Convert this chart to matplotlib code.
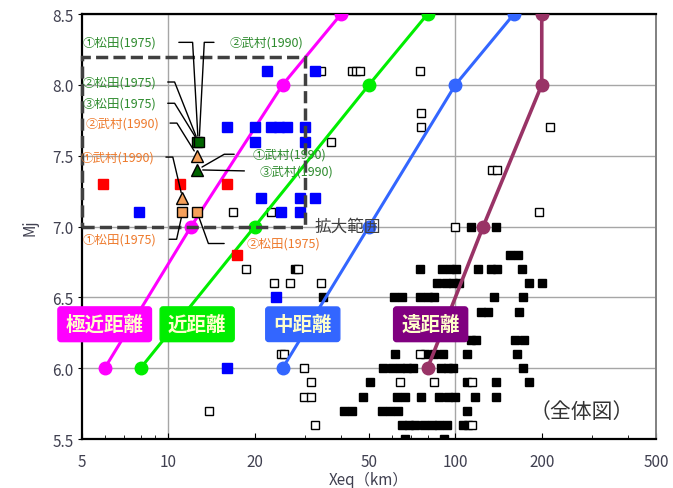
import matplotlib
matplotlib.use("Agg")
import matplotlib.pyplot as plt
from matplotlib.patches import Rectangle

plt.rcParams['font.family'] = ['Noto Sans CJK JP', 'DejaVu Sans']

# ── 距離区分ライン ───────────────────────────────
MAG_X = [6, 12, 25, 40]
GRN_X = [8, 20, 50, 80]
BLU_X = [25, 50, 100, 160]
MAR_X = [80, 125, 200, 200]
LINE_Y = [6.0, 7.0, 8.0, 8.5]

# ── 黒(塗り)の観測点 ───────────────────────────────
BLACK_X = [113, 139,
           155, 165,
           27.7, 75, 90, 95.6, 100.5, 120, 132.6, 140, 170,
           86, 93, 98, 103, 180, 201,
           34.7, 61, 65, 75, 80, 84, 136.6, 172,
           123, 130, 166.5,
           113, 118, 161, 173,
           61.4, 78.5, 84, 90.8, 109.5, 164,
           56, 60, 64, 68, 71, 89, 94, 98, 172,
           50.5, 109.5, 138, 180,
           47.6, 62.7, 66.9, 75.7, 88, 94, 99.5, 116.7, 139,
           41, 43.5, 55.5, 59.4, 63.3, 109.5,
           65, 68.7, 72.3, 77.7, 83, 87.5, 93.3, 106, 111,
           66.7, 91.6]
BLACK_Y = [7.0, 7.0,
           6.8, 6.8,
           6.7, 6.7, 6.7, 6.7, 6.7, 6.7, 6.7, 6.7, 6.7,
           6.6, 6.6, 6.6, 6.6, 6.6, 6.6,
           6.5, 6.5, 6.5, 6.5, 6.5, 6.5, 6.5, 6.5,
           6.4, 6.4, 6.4,
           6.2, 6.2, 6.2, 6.2,
           6.1, 6.1, 6.1, 6.1, 6.1, 6.1,
           6.0, 6.0, 6.0, 6.0, 6.0, 6.0, 6.0, 6.0, 6.0,
           5.9, 5.9, 5.9, 5.9,
           5.8, 5.8, 5.8, 5.8, 5.8, 5.8, 5.8, 5.8, 5.8,
           5.7, 5.7, 5.7, 5.7, 5.7, 5.7,
           5.6, 5.6, 5.6, 5.6, 5.6, 5.6, 5.6, 5.6, 5.6,
           5.5, 5.5]

# ── 白抜きの観測点 ───────────────────────────────
OPEN_X = [34, 43.5, 45, 46.5, 75,
          75.6, 75.6, 214, 37, 134, 140,
          16.8, 22.7, 195, 100,
          18.6, 28.4, 23.3, 26.6, 34.1,
          24.7, 25.2, 75, 29.7,
          31.5, 64.2, 84, 114.5,
          29.7, 31.5, 13.9, 32.3, 114]
OPEN_Y = [8.1, 8.1, 8.1, 8.1, 8.1,
          7.8, 7.7, 7.7, 7.6, 7.4, 7.4,
          7.1, 7.1, 7.1, 7.0,
          6.7, 6.7, 6.6, 6.6, 6.6,
          6.1, 6.1, 6.1, 6.0,
          5.9, 5.9, 5.9, 5.9,
          5.8, 5.8, 5.7, 5.6, 5.6]

BLUE_X = [22, 32.5, 16, 20, 22.7, 24.3, 26, 30, 20, 30,
          21, 28.7, 32.5, 7.9, 24.6, 28.7, 23.8, 16]
BLUE_Y = [8.1, 8.1, 7.7, 7.7, 7.7, 7.7, 7.7, 7.7, 7.6, 7.6,
          7.2, 7.2, 7.2, 7.1, 7.1, 7.1, 6.5, 6.0]

RED_X = [5.9, 11, 16, 17.3]
RED_Y = [7.3, 7.3, 7.3, 6.8]

# 松田(1975)・武村(1990)による推定点
ORG_SQ_X = [11.2, 12.6]
ORG_SQ_Y = [7.1, 7.1]
ORG_TRI_X = [11.2, 12.6]
ORG_TRI_Y = [7.2, 7.5]
GRN_SQ_X = [12.6, 12.8]
GRN_SQ_Y = [7.6, 7.6]
GRN_TRI_X = [12.6]
GRN_TRI_Y = [7.4]

# 注記: テキスト, 色, ラベル位置, 指す点, 左右, 隙間, 水平部の長さ
GREEN_TXT = '#2E8B2E'
ORANGE_TXT = '#EE7A2C'
NOTES = [
    ('①松田(1975)', GREEN_TXT, (9.1, 8.30), (12.7, 7.6), 'L', 14, 22),
    ('②松田(1975)', GREEN_TXT, (9.1, 8.02), (12.7, 7.6), 'L', 6, 12),
    ('③松田(1975)', GREEN_TXT, (9.1, 7.87), (12.7, 7.6), 'L', 6, 12),
    ('②武村(1990)', ORANGE_TXT, (9.27, 7.73), (12.6, 7.5), 'L', 6, 12),
    ('①武村(1990)', ORANGE_TXT, (8.97, 7.49), (11.2, 7.2), 'L', 6, 12),
    ('①松田(1975)', ORANGE_TXT, (9.1, 6.91), (11.2, 7.1), 'L', 7, 13),
    ('②武村(1990)', GREEN_TXT, (16.3, 8.30), (12.8, 7.6), 'R', 9, 16),
    ('①武村(1990)', GREEN_TXT, (19.6, 7.51), (12.6, 7.4), 'R', 11, 17),
    ('③武村(1990)', GREEN_TXT, (20.8, 7.39), (12.6, 7.4), 'R', 9, 0),
    ('②松田(1975)', ORANGE_TXT, (18.7, 6.88), (12.6, 7.1), 'R', 14, 24),
]

BOXES = [('極近距離', 6.0, '#FF00FF'),
         ('近距離', 12.6, '#00EE00'),
         ('中距離', 29.4, '#3366FF'),
         ('遠距離', 82, '#800080')]
BOX_Y = 6.31

ZOOM_X = (5, 30)
ZOOM_Y = (7.0, 8.2)

X_TICKS = [5, 10, 20, 50, 100, 200, 500]
Y_TICKS = [5.5, 6.0, 6.5, 7.0, 7.5, 8.0, 8.5]
GRID_X = [10, 100]

fig = plt.figure(figsize=(6.73, 4.89), dpi=100)
ax = fig.add_axes([0.1218, 0.1002, 0.8529, 0.8691])

ax.set_xscale('log')
ax.set_xlim(5, 500)
ax.set_ylim(5.5, 8.5)

# グリッド
for v in Y_TICKS:
    ax.axhline(v, color='#A6A6A6', lw=1, zorder=0)
for v in GRID_X:
    ax.axvline(v, color='#A6A6A6', lw=1, zorder=0)

# 観測点
ax.plot(BLACK_X, BLACK_Y, 's', ms=6, mfc='black', mec='black', zorder=2)
ax.plot(OPEN_X, OPEN_Y, 's', ms=5.2, mfc='white', mec='black', mew=1, zorder=2)

# 距離区分ライン
for xs, col, lw in [(MAG_X, '#FF00FF', 2.2), (GRN_X, '#00EE00', 2.2),
                    (BLU_X, '#3366FF', 2.2), (MAR_X, '#993366', 2.6)]:
    ax.plot(xs, LINE_Y, '-o', color=col, lw=lw, ms=9, zorder=3)

ax.plot(BLUE_X, BLUE_Y, 's', ms=7.8, mfc='#0000FF', mec='#0000FF', zorder=4)
ax.plot(RED_X, RED_Y, 's', ms=7.8, mfc='#FF0000', mec='#FF0000', zorder=4)

ax.add_patch(Rectangle((ZOOM_X[0], ZOOM_Y[0]), ZOOM_X[1] - ZOOM_X[0],
                       ZOOM_Y[1] - ZOOM_Y[0], fill=False, ec='#404040',
                       lw=2.5, ls=(0, (3.5, 1.5)), zorder=4.5, clip_on=False))
ax.text(32.4, 7.0, '拡大範囲', ha='left', va='center', fontsize=12,
        color='#404040', zorder=4.5)

ax.plot(ORG_SQ_X, ORG_SQ_Y, 's', ms=7.8, mfc='#F5A05A', mec='black', mew=1, zorder=5)
ax.plot(ORG_TRI_X, ORG_TRI_Y, '^', ms=8, mfc='#F5A05A', mec='black', mew=1, zorder=5)
ax.plot(GRN_SQ_X, GRN_SQ_Y, 's', ms=7.8, mfc='#006400', mec='black', mew=1, zorder=5)
ax.plot(GRN_TRI_X, GRN_TRI_Y, '^', ms=8, mfc='#006400', mec='black', mew=1, zorder=5)

for txt, col, pos, tgt, side, gap, arm in NOTES:
    if side == 'L':
        ha, rel, ang = 'right', (1, 0.5), 0
    else:
        ha, rel, ang = 'left', (0, 0.5), 180
    ax.annotate(txt, xy=tgt, xytext=pos, ha=ha, va='center', fontsize=9,
                color=col, zorder=6,
                arrowprops=dict(arrowstyle='-', color='black', lw=1,
                                shrinkA=gap, shrinkB=4, relpos=rel,
                                connectionstyle=f'arc,angleA={ang},armA={arm + gap if arm else 0},'
                                                f'angleB=0,armB=0,rad=0'))

for txt, x, col in BOXES:
    ax.text(x, BOX_Y, txt, ha='center', va='center', fontsize=14,
            fontweight='bold', color='#FFFFCC', zorder=7,
            bbox=dict(boxstyle='round,pad=0.4,rounding_size=0.15',
                      fc=col, ec=col, lw=1))

ax.text(0.87, 0.067, '（全体図）', transform=ax.transAxes, ha='center',
        va='center', fontsize=15, color='#333333', zorder=7)

ax.set_xticks(X_TICKS)
ax.set_xticklabels([str(v) for v in X_TICKS])
ax.set_yticks(Y_TICKS)
ax.set_yticklabels([f'{v:.1f}' for v in Y_TICKS])
ax.tick_params(axis='x', which='major', direction='in', length=4, pad=10,
               labelsize=11, labelcolor='#404050')
ax.tick_params(axis='x', which='minor', direction='in', length=3)
ax.tick_params(axis='y', direction='out', length=3, pad=3,
               labelsize=11, labelcolor='#404050')

ax.set_xlabel('Xeq（km）', fontsize=11, color='#404050', labelpad=1)
ax.set_ylabel('Mj', fontsize=11, color='#404050', labelpad=10)

for s in ['left', 'bottom', 'top']:
    ax.spines[s].set_linewidth(1.6)
    ax.spines[s].set_color('black')
ax.spines['right'].set_color('#808080')
ax.spines['right'].set_linewidth(1.4)

fig.savefig('out.png', dpi=100)
